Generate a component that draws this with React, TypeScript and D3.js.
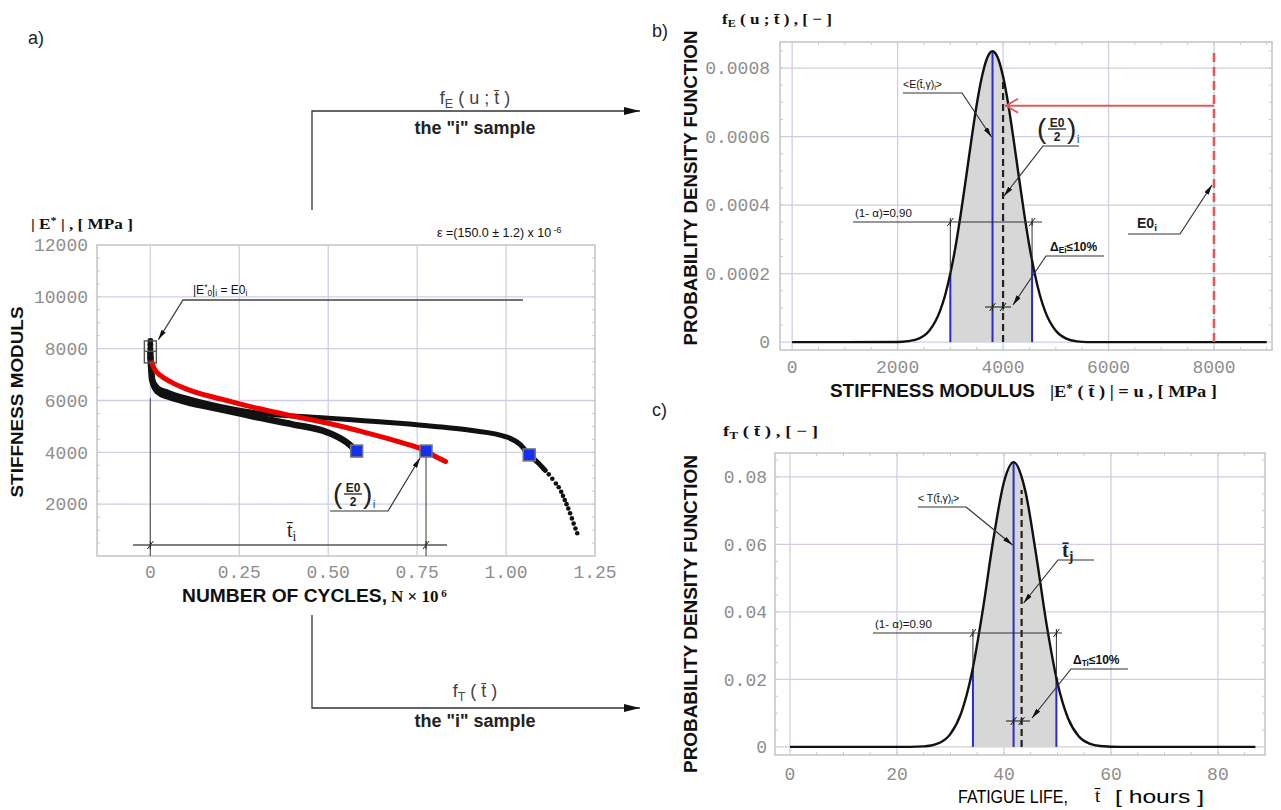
import React, { useEffect, useRef } from 'react';
import * as d3 from 'd3';

// a) stiffness modulus vs number of cycles (N x 10^6 ; MPa), three samples
const lowCycles = [0, 0.005, 0.02, 0.05, 0.1, 0.2, 0.3, 0.4, 0.5, 0.55, 0.58];
const lowStiff = [7800, 6800, 6350, 6150, 5950, 5650, 5350, 5080, 4760, 4400, 4050];
const redCycles = [0, 0.01, 0.03, 0.06, 0.1, 0.2, 0.3, 0.4, 0.5, 0.6, 0.7, 0.775, 0.8, 0.83];
const redStiff = [7700, 7250, 6950, 6700, 6450, 6050, 5700, 5400, 5120, 4780, 4400, 4050, 3850, 3650];
const upCycles = [0, 0.005, 0.02, 0.05, 0.1, 0.2, 0.3, 0.4, 0.5, 0.6, 0.7, 0.8, 0.9, 1.0, 1.04, 1.065, 1.09, 1.11];
const upStiff = [7600, 6850, 6500, 6320, 6100, 5760, 5520, 5400, 5320, 5220, 5120, 5000, 4850, 4600, 4300, 3900, 3600, 3300];
const tailCycles = [1.12, 1.13, 1.14, 1.148, 1.155, 1.16, 1.165, 1.17, 1.175, 1.18, 1.185, 1.19, 1.195, 1.2];
const tailStiff = [3150, 2980, 2800, 2650, 2480, 2320, 2160, 2000, 1830, 1650, 1450, 1250, 1060, 880];
const startCycles = [0, 0, 0, 0, 0];
const startStiff = [8300, 8150, 8000, 7850, 7650];
const halfCycles = [0.58, 0.775, 1.065];
const halfStiff = [4050, 4050, 3900];
const aXTicks = [0, 0.25, 0.5, 0.75, 1, 1.25];
const aXLabels = ['0', '0.25', '0.50', '0.75', '1.00', '1.25'];
const aYTicks = [2000, 4000, 6000, 8000, 10000, 12000];

// b) pdf of the stiffness modulus at t
const bModulus = [0, 1000, 2000, 2200, 2400, 2600, 2800, 2900, 3000, 3100, 3200, 3300, 3400, 3500, 3600, 3700, 3800,
  3900, 4000, 4100, 4200, 4300, 4400, 4500, 4600, 4700, 4800, 5000, 5200, 5400, 5600, 7000, 9000];
const bDensity = [0, 0, 0.0000005, 0.000003, 0.00001, 0.000033, 0.000089, 0.000136, 0.0002, 0.00028, 0.000376, 0.000482,
  0.000591, 0.000693, 0.000775, 0.00083, 0.000849, 0.00083, 0.000775, 0.000693, 0.000591, 0.000482, 0.000376, 0.00028,
  0.0002, 0.000136, 0.000089, 0.000033, 0.00001, 0.000002, 0, 0, 0];
const bXTicks = [0, 2000, 4000, 6000, 8000];
const bYTicks = [0, 0.0002, 0.0004, 0.0006, 0.0008];
const bYLabels = ['0', '0.0002', '0.0004', '0.0006', '0.0008'];
const bBounds = [3000, 3800, 4550]; // lower bound, mean, upper bound
const bHalf = 4000; // (E0/2)i
const bE0 = 8000;
const bE0Top = 0.00085;
const bArrowLevel = 0.00069;

// c) pdf of the fatigue life
const cHours = [0, 10, 20, 25, 28, 30, 32, 34, 36, 38, 40, 41.8, 44, 46, 48, 50, 52, 54, 56, 58, 62, 70, 87];
const cDensity = [0, 0, 0, 0.00016, 0.00124, 0.00385, 0.01, 0.0219, 0.0401, 0.0613, 0.0785, 0.0844, 0.0758, 0.0571,
  0.036, 0.019, 0.0084, 0.0031, 0.00096, 0.00025, 0, 0, 0];
const cXTicks = [0, 20, 40, 60, 80];
const cYTicks = [0, 0.02, 0.04, 0.06, 0.08];
const cYLabels = ['0', '0.02', '0.04', '0.06', '0.08'];
const cBounds = [34.2, 41.8, 49.8];
const cLife = 43.3;

const GRID = '#cdcfe2';
const FRAME = '#c4c4c4';
const LABEL = '#8e8e8e';
const BLUE = '#2a2ad0';
const RED = '#e05a5a';
const mono = "'Liberation Mono', 'DejaVu Sans Mono', monospace";
const sans = "'Liberation Sans', Arial, sans-serif";
const serif = "'Liberation Serif', 'Times New Roman', serif";

const interp = (xs, ys, v) => {
  const i = Math.max(1, Math.min(xs.length - 1, d3.bisectLeft(xs, v)));
  const t = (v - xs[i - 1]) / (xs[i] - xs[i - 1]);
  return ys[i - 1] + t * (ys[i] - ys[i - 1]);
};

// parts: [text, 'sub' | 'sup' | undefined]
const rich = (g, x, y, parts, o: any = {}) => {
  const size = o.size || 12;
  const t = g.append('text').attr('x', x).attr('y', y)
    .attr('font-family', o.font || sans).attr('font-size', size)
    .attr('font-weight', o.weight || 'normal').attr('text-anchor', o.anchor || 'start')
    .attr('fill', o.fill || '#111');
  if (o.len) t.attr('textLength', o.len).attr('lengthAdjust', 'spacingAndGlyphs');
  parts.forEach(p => {
    const s = t.append('tspan').text(p[0]);
    if (p[1] === 'sub') s.attr('baseline-shift', '-30%').attr('font-size', size * 0.7);
    if (p[1] === 'sup') s.attr('baseline-shift', '45%').attr('font-size', size * 0.7);
  });
  return t;
};

const drawFrame = (g, x, y, xGrid, yGrid, xMinor, yMinor) => {
  const [l, r] = x.range();
  const [b, t] = y.range();
  g.append('rect').attr('x', l).attr('y', t).attr('width', r - l).attr('height', b - t)
    .attr('fill', 'none').attr('stroke', FRAME).attr('stroke-width', 1.5);
  g.append('g').selectAll('line').data(xGrid).join('line')
    .attr('x1', d => x(d)).attr('x2', d => x(d)).attr('y1', t).attr('y2', b)
    .attr('stroke', GRID).attr('stroke-width', 1.3);
  g.append('g').selectAll('line').data(yGrid).join('line')
    .attr('x1', l).attr('x2', r).attr('y1', d => y(d)).attr('y2', d => y(d))
    .attr('stroke', GRID).attr('stroke-width', 1.3);
  const m = g.append('g').attr('stroke', '#c8c8c8').attr('stroke-width', 1);
  xMinor.forEach(v => {
    m.append('line').attr('x1', x(v)).attr('x2', x(v)).attr('y1', t).attr('y2', t + 3);
    m.append('line').attr('x1', x(v)).attr('x2', x(v)).attr('y1', b).attr('y2', b - 3);
  });
  yMinor.forEach(v => {
    m.append('line').attr('x1', l).attr('x2', l + 3).attr('y1', y(v)).attr('y2', y(v));
    m.append('line').attr('x1', r).attr('x2', r - 3).attr('y1', y(v)).attr('y2', y(v));
  });
};

const tickMark = (g, x, y) => {
  g.append('line').attr('x1', x - 3).attr('x2', x + 3).attr('y1', y + 4).attr('y2', y - 4)
    .attr('stroke', '#222').attr('stroke-width', 1);
  g.append('line').attr('x1', x).attr('x2', x).attr('y1', y - 4).attr('y2', y + 4)
    .attr('stroke', '#222').attr('stroke-width', 1);
};

const leader = (g, d) => g.append('path').attr('d', d).attr('fill', 'none')
  .attr('stroke', '#333').attr('stroke-width', 1.2).attr('marker-end', 'url(#lead)');

// (E0 / 2)_i
const halfLabel = (g, x, y) => {
  g.append('text').attr('x', x).attr('y', y + 9).attr('font-family', sans).attr('font-size', 28)
    .attr('fill', '#222').text('(');
  g.append('text').attr('x', x + 30).attr('y', y + 9).attr('font-family', sans).attr('font-size', 28)
    .attr('fill', '#222').text(')');
  g.append('text').attr('x', x + 20).attr('y', y - 2).attr('text-anchor', 'middle').attr('font-family', sans)
    .attr('font-weight', 'bold').attr('font-size', 12).attr('fill', '#222').text('E0');
  g.append('line').attr('x1', x + 11).attr('x2', x + 29).attr('y1', y).attr('y2', y)
    .attr('stroke', '#222').attr('stroke-width', 1.3);
  g.append('text').attr('x', x + 20).attr('y', y + 12).attr('text-anchor', 'middle').attr('font-family', sans)
    .attr('font-weight', 'bold').attr('font-size', 12).attr('fill', '#222').text('2');
  g.append('text').attr('x', x + 40).attr('y', y + 14).attr('font-family', sans)
    .attr('font-size', 10).attr('fill', '#222').text('i');
};

export default function App() {
  const ref = useRef(null);

  useEffect(() => {
    const svg = d3.select(ref.current);
    svg.selectAll('*').remove();

    const defs = svg.append('defs');
    const marker = (id, color, w, h, open) => {
      const m = defs.append('marker').attr('id', id).attr('viewBox', `0 0 ${w} ${h}`)
        .attr('refX', w).attr('refY', h / 2).attr('markerWidth', w).attr('markerHeight', h)
        .attr('markerUnits', 'userSpaceOnUse').attr('orient', 'auto');
      if (open) {
        m.append('path').attr('d', `M1,1L${w - 1},${h / 2}L1,${h - 1}`).attr('fill', 'none')
          .attr('stroke', color).attr('stroke-width', 1.8);
      } else {
        m.append('path').attr('d', `M0,0L${w},${h / 2}L0,${h}Z`).attr('fill', color);
      }
    };
    marker('big', '#111', 16, 8, false);
    marker('lead', '#111', 10, 5, false);
    marker('red', RED, 14, 16, true);

    // ---------------- panel a ----------------
    const ga = svg.append('g');
    const xa = d3.scaleLinear().domain([-0.15, 1.25]).range([97, 595]);
    const ya = d3.scaleLinear().domain([0, 12000]).range([556, 245]);
    drawFrame(ga, xa, ya, aXTicks.slice(0, 5), aYTicks.slice(0, 5), [], d3.range(500, 12000, 500));

    ga.append('g').selectAll('text').data(aYTicks).join('text')
      .attr('x', 88).attr('y', d => ya(d)).attr('dy', '0.35em').attr('text-anchor', 'end')
      .attr('font-family', mono).attr('font-size', 18).attr('fill', LABEL).text(d => d);
    ga.append('g').selectAll('text').data(aXTicks).join('text')
      .attr('x', d => xa(d)).attr('y', 578).attr('text-anchor', 'middle')
      .attr('font-family', mono).attr('font-size', 18).attr('fill', LABEL).text((d, i) => aXLabels[i]);

    // dimension lines
    ga.append('line').attr('x1', xa(0)).attr('x2', xa(0)).attr('y1', ya(6100)).attr('y2', 556)
      .attr('stroke', '#666').attr('stroke-width', 1.3);
    ga.append('line').attr('x1', xa(halfCycles[1])).attr('x2', xa(halfCycles[1]))
      .attr('y1', ya(halfStiff[1])).attr('y2', 556).attr('stroke', '#666').attr('stroke-width', 1.3);
    ga.append('line').attr('x1', 133).attr('x2', 447).attr('y1', 545).attr('y2', 545)
      .attr('stroke', '#555').attr('stroke-width', 1.3);
    tickMark(ga, xa(0), 545);
    tickMark(ga, xa(halfCycles[1]), 545);

    const la = d3.line().curve(d3.curveMonotoneX);
    const series = (xs, ys, color, w) => ga.append('path')
      .attr('d', la(xs.map((v, i) => [xa(v), ya(ys[i])])))
      .attr('fill', 'none').attr('stroke', color).attr('stroke-width', w)
      .attr('stroke-linecap', 'round').attr('stroke-linejoin', 'round');
    series(upCycles, upStiff, '#111', 5);
    series(lowCycles, lowStiff, '#111', 6.5);
    series(redCycles, redStiff, '#ee0000', 5);
    ga.append('g').selectAll('circle').data(tailCycles).join('circle')
      .attr('cx', d => xa(d)).attr('cy', (d, i) => ya(tailStiff[i])).attr('r', 2.3).attr('fill', '#111');
    ga.append('g').selectAll('circle').data(startCycles).join('circle')
      .attr('cx', d => xa(d)).attr('cy', (d, i) => ya(startStiff[i])).attr('r', 3).attr('fill', '#111');

    // start box
    ga.append('rect').attr('x', xa(0) - 6).attr('y', ya(8300)).attr('width', 12).attr('height', ya(7450) - ya(8300))
      .attr('fill', 'none').attr('stroke', '#555').attr('stroke-width', 1.4);
    ga.append('line').attr('x1', xa(0) - 6).attr('x2', xa(0) + 6).attr('y1', ya(7900)).attr('y2', ya(7900))
      .attr('stroke', '#555').attr('stroke-width', 1.4);

    // E0/2 markers
    ga.append('g').selectAll('rect').data(halfCycles).join('rect')
      .attr('x', d => xa(d) - 6).attr('y', (d, i) => ya(halfStiff[i]) - 6).attr('width', 12).attr('height', 12)
      .attr('fill', '#1530f0').attr('stroke', '#777').attr('stroke-width', 1.5);

    // annotations a
    ga.append('path').attr('d', `M523,300L183,300L${xa(0) + 8},${ya(8350)}`).attr('fill', 'none')
      .attr('stroke', '#444').attr('stroke-width', 1.3).attr('marker-end', 'url(#lead)');
    rich(ga, 193, 294, [['|E'], ['*', 'sup'], ['0', 'sub'], ['|'], ['i', 'sub'], [' = E0'], ['i', 'sub']], { size: 12 });
    leader(ga, `M330,511L388,511L${xa(halfCycles[1]) - 6},${ya(halfStiff[1]) + 7}`);
    halfLabel(ga, 333, 494);
    rich(ga, 287, 537, [['t\u0304'], ['i', 'sub']], { font: serif, size: 20, fill: '#222' });

    rich(ga, 31, 229, [['| E'], ['*', 'sup'], [' | , [ MPa ]']], { font: serif, size: 15, weight: 'bold', len: 102 });
    rich(ga, 437, 237, [['\u03b5 =(150.0 \u00b1 1.2) x 10'], [' -6', 'sup']], { size: 12.5 });
    ga.append('text').attr('transform', 'translate(23,402) rotate(-90)').attr('text-anchor', 'middle')
      .attr('font-family', sans).attr('font-weight', 'bold').attr('font-size', 17).attr('fill', '#111')
      .attr('textLength', 191).attr('lengthAdjust', 'spacingAndGlyphs')
      .text('STIFFNESS MODULS');
    rich(ga, 182, 602, [['NUMBER OF CYCLES,']], { size: 18, weight: 'bold', len: 205 });
    const nt = rich(ga, 391, 602, [['N \u00d7 10']], { font: serif, size: 17, weight: 'bold' });
    nt.append('tspan').attr('font-size', 11).attr('baseline-shift', '50%').text(' 6');
    svg.append('text').attr('x', 28).attr('y', 44).attr('font-family', sans).attr('font-size', 18)
      .attr('fill', '#222').text('a)');

    // connectors
    svg.append('path').attr('d', 'M312,210L312,111L640,111').attr('fill', 'none')
      .attr('stroke', '#333').attr('stroke-width', 1.3).attr('marker-end', 'url(#big)');
    svg.append('path').attr('d', 'M312,615L312,708L640,708').attr('fill', 'none')
      .attr('stroke', '#333').attr('stroke-width', 1.3).attr('marker-end', 'url(#big)');
    rich(svg, 475, 104, [['f'], ['E', 'sub'], [' ( u ; t\u0304 )']], { size: 18, anchor: 'middle', fill: '#444' });
    rich(svg, 475, 134, [['the "i" sample']], { size: 18, weight: 'bold', anchor: 'middle', fill: '#222' });
    rich(svg, 475, 697, [['f'], ['T', 'sub'], [' ( t\u0304 )']], { size: 18, anchor: 'middle', fill: '#444' });
    rich(svg, 475, 727, [['the "i" sample']], { size: 18, weight: 'bold', anchor: 'middle', fill: '#222' });

    // ---------------- panel b ----------------
    const gb = svg.append('g');
    const xb = d3.scaleLinear().domain([-230, 9100]).range([780, 1272]);
    const yb = d3.scaleLinear().domain([-0.000023, 0.000876]).range([350, 42]);
    drawFrame(gb, xb, yb, bXTicks, bYTicks, d3.range(500, 9100, 500), d3.range(0.00005, 0.00086, 0.00005));
    gb.append('g').selectAll('text').data(bYTicks).join('text')
      .attr('x', 770).attr('y', d => yb(d)).attr('dy', '0.35em').attr('text-anchor', 'end')
      .attr('font-family', mono).attr('font-size', 18).attr('fill', LABEL).text((d, i) => bYLabels[i]);
    gb.append('g').selectAll('text').data(bXTicks).join('text')
      .attr('x', d => xb(d)).attr('y', 373).attr('text-anchor', 'middle')
      .attr('font-family', mono).attr('font-size', 18).attr('fill', LABEL).text(d => d);

    const bPts = bModulus.map((v, i) => [v, bDensity[i]]);
    defs.append('clipPath').attr('id', 'clipb').append('rect')
      .attr('x', xb(bBounds[0])).attr('y', 0).attr('width', xb(bBounds[2]) - xb(bBounds[0])).attr('height', 810);
    gb.append('path').datum(bPts).attr('clip-path', 'url(#clipb)').attr('fill', '#d7d7d7')
      .attr('d', d3.area().curve(d3.curveMonotoneX).x(d => xb(d[0])).y0(yb(0)).y1(d => yb(d[1])));
    gb.append('g').selectAll('line').data(bBounds).join('line')
      .attr('x1', d => xb(d)).attr('x2', d => xb(d)).attr('y1', yb(0))
      .attr('y2', d => yb(interp(bModulus, bDensity, d))).attr('stroke', BLUE).attr('stroke-width', 2);
    gb.append('line').attr('x1', xb(bHalf)).attr('x2', xb(bHalf)).attr('y1', yb(0))
      .attr('y2', yb(interp(bModulus, bDensity, bHalf))).attr('stroke', '#222').attr('stroke-width', 2.2)
      .attr('stroke-dasharray', '7,4');
    gb.append('path').datum(bPts).attr('fill', 'none').attr('stroke', '#111').attr('stroke-width', 2.4)
      .attr('d', d3.line().curve(d3.curveMonotoneX).x(d => xb(d[0])).y(d => yb(d[1])));
    gb.append('line').attr('x1', xb(bE0)).attr('x2', xb(bE0)).attr('y1', yb(0)).attr('y2', yb(bE0Top))
      .attr('stroke', RED).attr('stroke-width', 2.6).attr('stroke-dasharray', '9,5');
    gb.append('line').attr('x1', xb(bE0)).attr('x2', xb(bHalf) + 2).attr('y1', yb(bArrowLevel)).attr('y2', yb(bArrowLevel))
      .attr('stroke', RED).attr('stroke-width', 2).attr('marker-end', 'url(#red)');

    // annotations b
    rich(gb, 903, 88, [['<E(t\u0304,\u03b3)'], ['i', 'sub'], ['>']], { size: 10.5 });
    leader(gb, `M903,93L962,93L${xb(bBounds[1]) - 1},137`);
    halfLabel(gb, 1037, 129);
    leader(gb, `M1079,146L1043,146L${xb(bHalf) + 1},196`);
    const yDim = 222;
    gb.append('line').attr('x1', 853).attr('x2', 1042).attr('y1', yDim).attr('y2', yDim)
      .attr('stroke', '#333').attr('stroke-width', 1.2);
    [bBounds[0], bBounds[2]].forEach(v => {
      gb.append('line').attr('x1', xb(v)).attr('x2', xb(v)).attr('y1', yDim)
        .attr('y2', yb(interp(bModulus, bDensity, v))).attr('stroke', '#333').attr('stroke-width', 1);
      tickMark(gb, xb(v), yDim);
    });
    rich(gb, 855, 217, [['(1- \u03b1)=0.90']], { size: 11.5 });
    rich(gb, 1050, 251, [['\u0394'], ['E', 'sub'], ['i', 'sub'], ['\u226410%']], { size: 12, weight: 'bold' });
    leader(gb, 'M1104,256L1046,256L1013,305');
    gb.append('line').attr('x1', 985).attr('x2', 1011).attr('y1', 307).attr('y2', 307)
      .attr('stroke', '#333').attr('stroke-width', 1.2);
    tickMark(gb, xb(bBounds[1]), 307);
    tickMark(gb, xb(bHalf), 307);
    rich(gb, 1137, 228, [['E0'], ['i', 'sub']], { size: 14, weight: 'bold', fill: '#222' });
    leader(gb, `M1128,234L1180,234L${xb(bE0) - 2},185`);

    rich(gb, 722, 24, [['f'], ['E', 'sub'], [' ( u ; t\u0304 ) , [ \u2212 ]']], { font: serif, size: 15, weight: 'bold', len: 110 });
    gb.append('text').attr('transform', 'translate(697,188) rotate(-90)').attr('text-anchor', 'middle')
      .attr('font-family', sans).attr('font-weight', 'bold').attr('font-size', 17.5).attr('fill', '#111')
      .attr('textLength', 315).attr('lengthAdjust', 'spacingAndGlyphs')
      .text('PROBABILITY DENSITY FUNCTION');
    rich(gb, 830, 397, [['STIFFNESS MODULUS']], { size: 18, weight: 'bold', len: 205 });
    rich(gb, 1050, 397, [['|E'], ['*', 'sup'], [' ( t\u0304 ) | = u ,  [ MPa ]']], { font: serif, size: 17, weight: 'bold', len: 167 });
    svg.append('text').attr('x', 652).attr('y', 37).attr('font-family', sans).attr('font-size', 18)
      .attr('fill', '#222').text('b)');

    // ---------------- panel c ----------------
    const gc = svg.append('g');
    const xc = d3.scaleLinear().domain([-2.8, 88.8]).range([775, 1265]);
    const yc = d3.scaleLinear().domain([-0.0024, 0.0871]).range([755, 453]);
    drawFrame(gc, xc, yc, cXTicks, cYTicks, d3.range(5, 88, 5), d3.range(0.005, 0.087, 0.005));
    gc.append('g').selectAll('text').data(cYTicks).join('text')
      .attr('x', 767).attr('y', d => yc(d)).attr('dy', '0.35em').attr('text-anchor', 'end')
      .attr('font-family', mono).attr('font-size', 18).attr('fill', LABEL).text((d, i) => cYLabels[i]);
    gc.append('g').selectAll('text').data(cXTicks).join('text')
      .attr('x', d => xc(d)).attr('y', 780).attr('text-anchor', 'middle')
      .attr('font-family', mono).attr('font-size', 18).attr('fill', LABEL).text(d => d);

    const cPts = cHours.map((v, i) => [v, cDensity[i]]);
    defs.append('clipPath').attr('id', 'clipc').append('rect')
      .attr('x', xc(cBounds[0])).attr('y', 0).attr('width', xc(cBounds[2]) - xc(cBounds[0])).attr('height', 810);
    gc.append('path').datum(cPts).attr('clip-path', 'url(#clipc)').attr('fill', '#d7d7d7')
      .attr('d', d3.area().curve(d3.curveMonotoneX).x(d => xc(d[0])).y0(yc(0)).y1(d => yc(d[1])));
    gc.append('g').selectAll('line').data(cBounds).join('line')
      .attr('x1', d => xc(d)).attr('x2', d => xc(d)).attr('y1', yc(0))
      .attr('y2', d => yc(interp(cHours, cDensity, d))).attr('stroke', BLUE).attr('stroke-width', 2);
    gc.append('line').attr('x1', xc(cLife)).attr('x2', xc(cLife)).attr('y1', yc(0))
      .attr('y2', yc(interp(cHours, cDensity, cLife)) + 8).attr('stroke', '#222').attr('stroke-width', 2.2)
      .attr('stroke-dasharray', '7,4');
    gc.append('path').datum(cPts).attr('fill', 'none').attr('stroke', '#111').attr('stroke-width', 2.4)
      .attr('d', d3.line().curve(d3.curveMonotoneX).x(d => xc(d[0])).y(d => yc(d[1])));

    // annotations c
    rich(gc, 918, 502, [['< T(t\u0304,\u03b3)'], ['i', 'sub'], ['>']], { size: 10.5 });
    leader(gc, `M918,507L966,507L${xc(cBounds[1]) - 1},545`);
    rich(gc, 1062, 557, [['t\u0304'], ['j', 'sub']], { font: serif, size: 20, weight: 'bold', fill: '#222' });
    leader(gc, `M1094,560L1058,560L${xc(cLife) + 2},603`);
    const cDim = 633;
    gc.append('line').attr('x1', 873).attr('x2', 1062).attr('y1', cDim).attr('y2', cDim)
      .attr('stroke', '#333').attr('stroke-width', 1.2);
    [cBounds[0], cBounds[2]].forEach(v => {
      gc.append('line').attr('x1', xc(v)).attr('x2', xc(v)).attr('y1', cDim)
        .attr('y2', yc(interp(cHours, cDensity, v))).attr('stroke', '#333').attr('stroke-width', 1);
      tickMark(gc, xc(v), cDim);
    });
    rich(gc, 875, 628, [['(1- \u03b1)=0.90']], { size: 11.5 });
    rich(gc, 1073, 664, [['\u0394'], ['T', 'sub'], ['i', 'sub'], ['\u226410%']], { size: 12, weight: 'bold' });
    leader(gc, 'M1128,669L1071,669L1032,718');
    gc.append('line').attr('x1', 1006).attr('x2', 1030).attr('y1', 721).attr('y2', 721)
      .attr('stroke', '#333').attr('stroke-width', 1.2);
    tickMark(gc, xc(cBounds[1]), 721);
    tickMark(gc, xc(cLife), 721);

    rich(gc, 723, 436, [['f'], ['T', 'sub'], [' (  t\u0304 ) , [ \u2212 ]']], { font: serif, size: 15, weight: 'bold', len: 95 });
    gc.append('text').attr('transform', 'translate(697,614) rotate(-90)').attr('text-anchor', 'middle')
      .attr('font-family', sans).attr('font-weight', 'bold').attr('font-size', 17.5).attr('fill', '#111')
      .attr('textLength', 318).attr('lengthAdjust', 'spacingAndGlyphs')
      .text('PROBABILITY DENSITY FUNCTION');
    rich(gc, 958, 803, [['FATIGUE LIFE,']], { size: 18, len: 110, fill: '#000' });
    rich(gc, 1095, 802, [['t\u0304']], { font: serif, size: 19, fill: '#000' });
    rich(gc, 1115, 803, [['[ hours ]']], { size: 18, len: 89, fill: '#000' });
    svg.append('text').attr('x', 652).attr('y', 416).attr('font-family', sans).attr('font-size', 18)
      .attr('fill', '#222').text('c)');
  }, []);

  return (
    <svg ref={ref} width={1281} height={810}
      style={{ position: 'absolute', left: 0, top: 0, background: '#fff' }} />
  );
}
